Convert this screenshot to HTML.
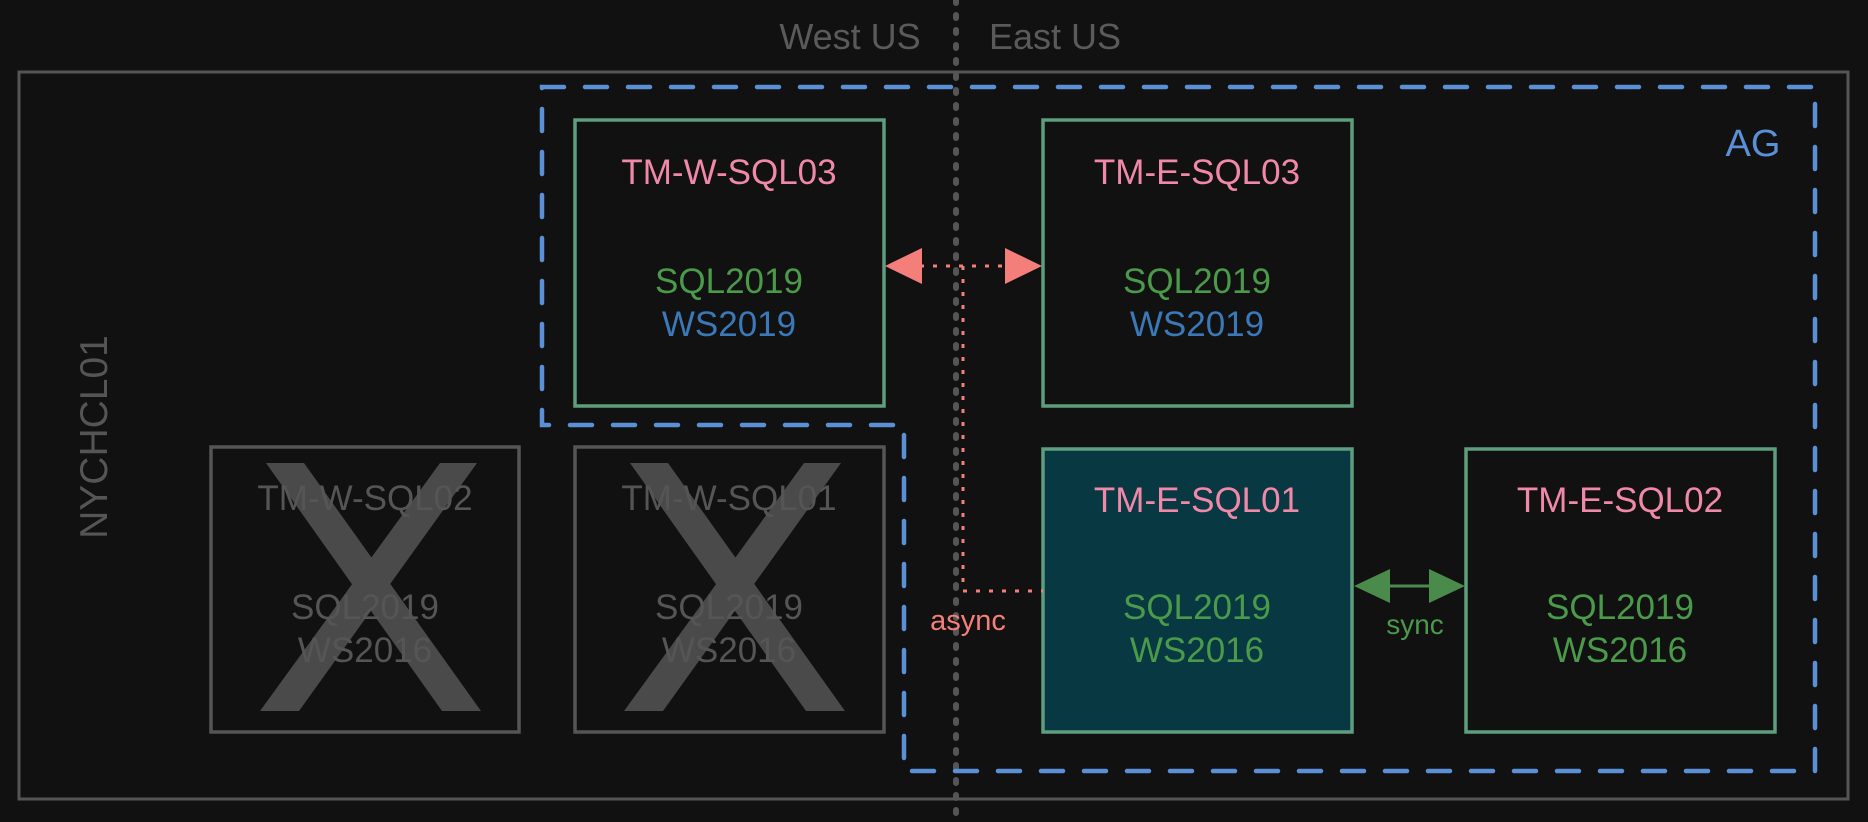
<!DOCTYPE html>
<html><head><meta charset="utf-8"><style>
html,body{margin:0;padding:0;background:#111;}
svg{display:block;}
text{font-family:"Liberation Sans",Arial,sans-serif;}
</style></head><body>
<svg width="1868" height="822" viewBox="0 0 1868 822" xmlns="http://www.w3.org/2000/svg">
<rect width="1868" height="822" fill="#111"/>
<rect x="19" y="72" width="1829" height="727" fill="none" stroke="#555" stroke-width="3"/>
<line x1="956" y1="0" x2="956" y2="822" stroke="#555" stroke-width="6" stroke-dasharray="3 12" stroke-linecap="round"/>
<text x="850" y="49" font-size="36" fill="#5a5a5a" text-anchor="middle">West US</text>
<text x="989" y="49" font-size="36" fill="#5a5a5a">East US</text>
<text transform="translate(107,437) rotate(-90)" font-size="39" fill="#555" text-anchor="middle">NYCHCL01</text>
<path d="M542,87 H1815 V771 H904 V425 H542 Z" fill="none" stroke="#5b8fd6" stroke-width="4.5" stroke-dasharray="22 21" stroke-linecap="round"/>
<text x="1753" y="156" font-size="38" fill="#5b8fd6" text-anchor="middle">AG</text>
<rect x="575" y="120" width="309" height="286" fill="none" stroke="#5e9e7e" stroke-width="3.5"/>
<rect x="1043" y="120" width="309" height="286" fill="none" stroke="#5e9e7e" stroke-width="3.5"/>
<rect x="211" y="447" width="308" height="285" fill="none" stroke="#555" stroke-width="3.5"/>
<rect x="575" y="447" width="309" height="285" fill="none" stroke="#555" stroke-width="3.5"/>
<rect x="1043" y="449" width="309" height="283" fill="#083842" stroke="#5e9e7e" stroke-width="3.5"/>
<rect x="1466" y="449" width="309" height="283" fill="none" stroke="#5e9e7e" stroke-width="3.5"/>
<g fill="#4a4a4a">
<polygon points="266,463 304,463 481,711 442,711"/>
<polygon points="440,463 477,463 299,711 260,711"/>
<polygon points="630,463 668,463 845,711 806,711"/>
<polygon points="804,463 841,463 663,711 624,711"/>
</g>
<g font-size="35" text-anchor="middle">
<text x="729" y="184" fill="#f088a8">TM-W-SQL03</text>
<text x="729" y="293" fill="#4a9a4a">SQL2019</text>
<text x="729" y="336" fill="#3a78b8">WS2019</text>
<text x="1197" y="184" fill="#f088a8">TM-E-SQL03</text>
<text x="1197" y="293" fill="#4a9a4a">SQL2019</text>
<text x="1197" y="336" fill="#3a78b8">WS2019</text>
<text x="365" y="510" fill="#555">TM-W-SQL02</text>
<text x="365" y="619" fill="#555">SQL2019</text>
<text x="365" y="662" fill="#555">WS2016</text>
<text x="729" y="510" fill="#555">TM-W-SQL01</text>
<text x="729" y="619" fill="#555">SQL2019</text>
<text x="729" y="662" fill="#555">WS2016</text>
<text x="1197" y="512" fill="#f088a8">TM-E-SQL01</text>
<text x="1197" y="619" fill="#4a9a4a">SQL2019</text>
<text x="1197" y="662" fill="#4a9a4a">WS2016</text>
<text x="1620" y="512" fill="#f088a8">TM-E-SQL02</text>
<text x="1620" y="619" fill="#4a9a4a">SQL2019</text>
<text x="1620" y="662" fill="#4a9a4a">WS2016</text>
</g>
<g stroke="#f47f7a" stroke-width="3" fill="none" stroke-dasharray="4 9">
<line x1="920" y1="266" x2="1008" y2="266"/>
<path d="M963,266 V591 H1043"/>
</g>
<polygon points="885,266 922,248 922,284" fill="#f47f7a"/>
<polygon points="1042,266 1005,248 1005,284" fill="#f47f7a"/>
<text x="968" y="630" font-size="29" fill="#f47f7a" text-anchor="middle">async</text>
<line x1="1385" y1="586" x2="1432" y2="586" stroke="#4a8a4a" stroke-width="3"/>
<polygon points="1354,586 1390,569 1390,603" fill="#4a8a4a"/>
<polygon points="1465,586 1429,569 1429,603" fill="#4a8a4a"/>
<text x="1415" y="634" font-size="28" fill="#4a9a4a" text-anchor="middle">sync</text>
</svg>
</body></html>
